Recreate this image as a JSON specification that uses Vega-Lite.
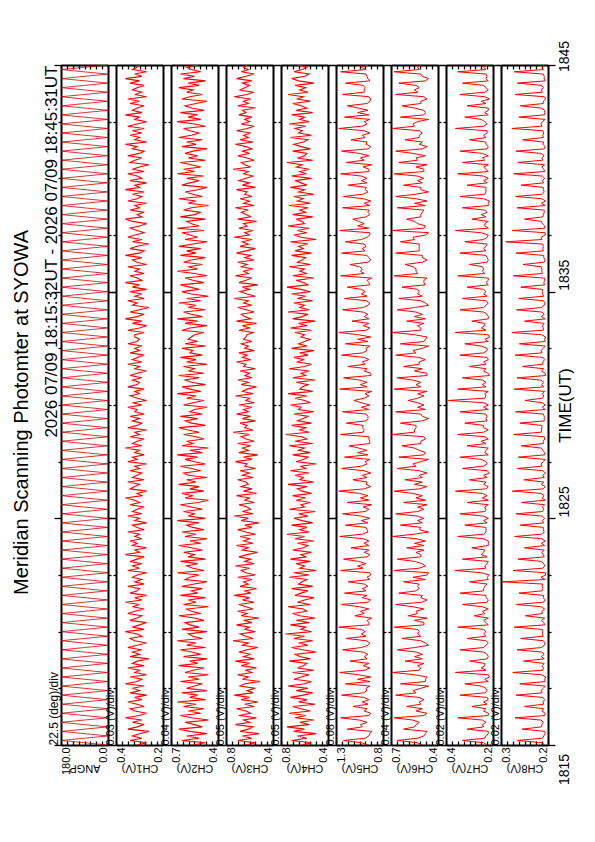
{
"$schema": "https://vega.github.io/schema/vega-lite/v6.json",
"background": "white",
"padding": {"left": 11, "top": 40, "right": 5, "bottom": 5},
"title": {"text": "Meridian Scanning Photomter at SYOWA", "orient": "left", "anchor": "middle", "fontSize": 20, "fontWeight": "normal", "font": "Liberation Sans", "color": "black", "offset": 10},
"config": {
  "font": "Liberation Sans",
  "view": {"stroke": null},
  "axis": {"domainColor": "black", "tickColor": "black", "labelColor": "black", "titleColor": "black", "labelFont": "Liberation Sans", "titleFont": "Liberation Sans", "titleFontWeight": "normal", "grid": false, "domainWidth": 2, "tickWidth": 1.3, "labelOverlap": false, "labelFlush": false}
},
"data": {"values": [
{"t":15.0,"a":1,"c1":0.31,"c2":0.56,"c3":0.63,"c4":0.62,"c5":0.96,"c6":0.50,"c7":0.225,"c8":0.208},
{"t":15.1,"a":90,"c1":0.27,"c2":0.48,"c3":0.55,"c4":0.54,"c5":1.03,"c6":0.53,"c7":0.24,"c8":0.212},
{"t":15.2,"a":179,"c1":0.34,"c2":0.63,"c3":0.70,"c4":0.71,"c5":1.22,"c6":0.66,"c7":0.33,"c8":0.265},
{"t":15.3,"a":89,"c1":0.29,"c2":0.52,"c3":0.58,"c4":0.58,"c5":0.99,"c6":0.53,"c7":0.235,"c8":0.212},
{"t":15.4,"a":0,"c1":0.33,"c2":0.60,"c3":0.66,"c4":0.66,"c5":0.95,"c6":0.49,"c7":0.23,"c8":0.209},
{"t":15.5,"a":91,"c1":0.30,"c2":0.47,"c3":0.52,"c4":0.50,"c5":0.94,"c6":0.48,"c7":0.22,"c8":0.206},
{"t":15.6,"a":178,"c1":0.26,"c2":0.58,"c3":0.68,"c4":0.69,"c5":0.92,"c6":0.47,"c7":0.22,"c8":0.207},
{"t":15.7,"a":88,"c1":0.35,"c2":0.65,"c3":0.61,"c4":0.60,"c5":1.18,"c6":0.62,"c7":0.31,"c8":0.255},
{"t":15.8,"a":2,"c1":0.31,"c2":0.50,"c3":0.57,"c4":0.75,"c5":1.02,"c6":0.55,"c7":0.24,"c8":0.214},
{"t":15.9,"a":90,"c1":0.28,"c2":0.55,"c3":0.72,"c4":0.56,"c5":1.04,"c6":0.54,"c7":0.245,"c8":0.213},
{"t":16.0,"a":180,"c1":0.33,"c2":0.61,"c3":0.60,"c4":0.64,"c5":0.97,"c6":0.52,"c7":0.23,"c8":0.21},
{"t":16.1,"a":92,"c1":0.29,"c2":0.46,"c3":0.65,"c4":0.52,"c5":1.05,"c6":0.56,"c7":0.245,"c8":0.215},
{"t":16.2,"a":1,"c1":0.36,"c2":0.57,"c3":0.54,"c4":0.68,"c5":1.25,"c6":0.68,"c7":0.35,"c8":0.27},
{"t":16.3,"a":89,"c1":0.30,"c2":0.64,"c3":0.69,"c4":0.59,"c5":0.95,"c6":0.49,"c7":0.22,"c8":0.207},
{"t":16.4,"a":179,"c1":0.27,"c2":0.51,"c3":0.59,"c4":0.73,"c5":0.93,"c6":0.47,"c7":0.22,"c8":0.206},
{"t":16.5,"a":91,"c1":0.32,"c2":0.59,"c3":0.63,"c4":0.55,"c5":1.00,"c6":0.54,"c7":0.24,"c8":0.213},
{"t":16.6,"a":0,"c1":0.34,"c2":0.49,"c3":0.71,"c4":0.63,"c5":0.97,"c6":0.50,"c7":0.23,"c8":0.209},
{"t":16.7,"a":90,"c1":0.28,"c2":0.62,"c3":0.56,"c4":0.70,"c5":1.12,"c6":0.60,"c7":0.29,"c8":0.25},
{"t":16.8,"a":178,"c1":0.31,"c2":0.54,"c3":0.64,"c4":0.51,"c5":0.96,"c6":0.51,"c7":0.225,"c8":0.209},
{"t":16.9,"a":88,"c1":0.35,"c2":0.66,"c3":0.53,"c4":0.65,"c5":1.02,"c6":0.52,"c7":0.24,"c8":0.211},
{"t":17.0,"a":2,"c1":0.29,"c2":0.48,"c3":0.67,"c4":0.58,"c5":0.95,"c6":0.49,"c7":0.22,"c8":0.207},
{"t":17.1,"a":92,"c1":0.32,"c2":0.58,"c3":0.60,"c4":0.72,"c5":1.00,"c6":0.52,"c7":0.225,"c8":0.211},
{"t":17.2,"a":180,"c1":0.27,"c2":0.53,"c3":0.73,"c4":0.61,"c5":1.24,"c6":0.67,"c7":0.34,"c8":0.268},
{"t":17.3,"a":89,"c1":0.34,"c2":0.63,"c3":0.57,"c4":0.53,"c5":1.01,"c6":0.54,"c7":0.235,"c8":0.213},
{"t":17.4,"a":1,"c1":0.30,"c2":0.47,"c3":0.62,"c4":0.67,"c5":0.97,"c6":0.56,"c7":0.225,"c8":0.215},
{"t":17.5,"a":90,"c1":0.33,"c2":0.60,"c3":0.55,"c4":0.57,"c5":0.98,"c6":0.51,"c7":0.23,"c8":0.21},
{"t":17.6,"a":179,"c1":0.28,"c2":0.55,"c3":0.68,"c4":0.74,"c5":0.94,"c6":0.46,"c7":0.25,"c8":0.206},
{"t":17.7,"a":91,"c1":0.36,"c2":0.50,"c3":0.64,"c4":0.60,"c5":1.20,"c6":0.64,"c7":0.32,"c8":0.26},
{"t":17.8,"a":0,"c1":0.31,"c2":0.64,"c3":0.51,"c4":0.54,"c5":0.94,"c6":0.48,"c7":0.22,"c8":0.206},
{"t":17.9,"a":88,"c1":0.29,"c2":0.52,"c3":0.66,"c4":0.69,"c5":1.07,"c6":0.48,"c7":0.235,"c8":0.207},
{"t":18.0,"a":178,"c1":0.34,"c2":0.59,"c3":0.61,"c4":0.63,"c5":0.93,"c6":0.47,"c7":0.215,"c8":0.205},
{"t":18.1,"a":90,"c1":0.27,"c2":0.46,"c3":0.70,"c4":0.56,"c5":1.06,"c6":0.55,"c7":0.22,"c8":0.214},
{"t":18.2,"a":2,"c1":0.32,"c2":0.61,"c3":0.58,"c4":0.70,"c5":1.26,"c6":0.69,"c7":0.36,"c8":0.275},
{"t":18.3,"a":92,"c1":0.30,"c2":0.56,"c3":0.63,"c4":0.52,"c5":0.99,"c6":0.52,"c7":0.23,"c8":0.211},
{"t":18.4,"a":180,"c1":0.35,"c2":0.49,"c3":0.54,"c4":0.66,"c5":0.94,"c6":0.51,"c7":0.25,"c8":0.21},
{"t":18.5,"a":89,"c1":0.28,"c2":0.65,"c3":0.67,"c4":0.61,"c5":1.01,"c6":0.53,"c7":0.235,"c8":0.212},
{"t":18.6,"a":1,"c1":0.33,"c2":0.53,"c3":0.60,"c4":0.58,"c5":0.95,"c6":0.49,"c7":0.235,"c8":0.208},
{"t":18.7,"a":91,"c1":0.31,"c2":0.58,"c3":0.72,"c4":0.73,"c5":1.15,"c6":0.61,"c7":0.30,"c8":0.252},
{"t":18.8,"a":179,"c1":0.26,"c2":0.47,"c3":0.56,"c4":0.55,"c5":0.97,"c6":0.50,"c7":0.225,"c8":0.208},
{"t":18.9,"a":90,"c1":0.34,"c2":0.62,"c3":0.65,"c4":0.64,"c5":1.00,"c6":0.55,"c7":0.22,"c8":0.214},
{"t":19.0,"a":0,"c1":0.30,"c2":0.51,"c3":0.59,"c4":0.68,"c5":0.96,"c6":0.50,"c7":0.225,"c8":0.208},
{"t":19.1,"a":88,"c1":0.33,"c2":0.57,"c3":0.69,"c4":0.50,"c5":1.01,"c6":0.54,"c7":0.24,"c8":0.213},
{"t":19.2,"a":178,"c1":0.29,"c2":0.64,"c3":0.62,"c4":0.62,"c5":1.23,"c6":0.66,"c7":0.34,"c8":0.266},
{"t":19.3,"a":90,"c1":0.35,"c2":0.48,"c3":0.53,"c4":0.71,"c5":1.03,"c6":0.55,"c7":0.24,"c8":0.214},
{"t":19.4,"a":2,"c1":0.31,"c2":0.60,"c3":0.66,"c4":0.57,"c5":0.96,"c6":0.46,"c7":0.23,"c8":0.208},
{"t":19.5,"a":92,"c1":0.27,"c2":0.54,"c3":0.61,"c4":0.65,"c5":0.94,"c6":0.48,"c7":0.22,"c8":0.206},
{"t":19.6,"a":180,"c1":0.32,"c2":0.66,"c3":0.74,"c4":0.53,"c5":0.98,"c6":0.51,"c7":0.23,"c8":0.21},
{"t":19.7,"a":89,"c1":0.34,"c2":0.50,"c3":0.57,"c4":0.69,"c5":1.19,"c6":0.63,"c7":0.31,"c8":0.258},
{"t":19.8,"a":1,"c1":0.29,"c2":0.56,"c3":0.63,"c4":0.60,"c5":0.98,"c6":0.51,"c7":0.23,"c8":0.21},
{"t":19.9,"a":91,"c1":0.31,"c2":0.59,"c3":0.68,"c4":0.76,"c5":1.03,"c6":0.53,"c7":0.24,"c8":0.212},
{"t":20.0,"a":179,"c1":0.36,"c2":0.47,"c3":0.55,"c4":0.54,"c5":0.99,"c6":0.52,"c7":0.23,"c8":0.211},
{"t":20.1,"a":90,"c1":0.28,"c2":0.63,"c3":0.64,"c4":0.63,"c5":1.03,"c6":0.53,"c7":0.24,"c8":0.212},
{"t":20.2,"a":0,"c1":0.33,"c2":0.52,"c3":0.60,"c4":0.59,"c5":1.27,"c6":0.68,"c7":0.35,"c8":0.272},
{"t":20.3,"a":88,"c1":0.30,"c2":0.58,"c3":0.71,"c4":0.72,"c5":0.95,"c6":0.49,"c7":0.22,"c8":0.207},
{"t":20.4,"a":178,"c1":0.27,"c2":0.61,"c3":0.58,"c4":0.56,"c5":0.95,"c6":0.49,"c7":0.23,"c8":0.209},
{"t":20.5,"a":90,"c1":0.34,"c2":0.49,"c3":0.65,"c4":0.67,"c5":0.97,"c6":0.55,"c7":0.24,"c8":0.214},
{"t":20.6,"a":2,"c1":0.31,"c2":0.55,"c3":0.52,"c4":0.51,"c5":0.92,"c6":0.47,"c7":0.22,"c8":0.207},
{"t":20.7,"a":92,"c1":0.29,"c2":0.65,"c3":0.67,"c4":0.64,"c5":1.10,"c6":0.59,"c7":0.28,"c8":0.248},
{"t":20.8,"a":180,"c1":0.35,"c2":0.51,"c3":0.62,"c4":0.70,"c5":1.00,"c6":0.53,"c7":0.235,"c8":0.212},
{"t":20.9,"a":89,"c1":0.32,"c2":0.57,"c3":0.70,"c4":0.58,"c5":1.04,"c6":0.54,"c7":0.245,"c8":0.213},
{"t":21.0,"a":1,"c1":0.28,"c2":0.60,"c3":0.57,"c4":0.61,"c5":0.95,"c6":0.49,"c7":0.22,"c8":0.207},
{"t":21.1,"a":91,"c1":0.33,"c2":0.46,"c3":0.63,"c4":0.74,"c5":1.05,"c6":0.56,"c7":0.245,"c8":0.215},
{"t":21.2,"a":179,"c1":0.30,"c2":0.62,"c3":0.69,"c4":0.55,"c5":1.24,"c6":0.67,"c7":0.33,"c8":0.267},
{"t":21.3,"a":90,"c1":0.36,"c2":0.54,"c3":0.56,"c4":0.66,"c5":0.96,"c6":0.50,"c7":0.225,"c8":0.209},
{"t":21.4,"a":0,"c1":0.29,"c2":0.59,"c3":0.66,"c4":0.60,"c5":0.93,"c6":0.47,"c7":0.22,"c8":0.206},
{"t":21.5,"a":88,"c1":0.32,"c2":0.48,"c3":0.60,"c4":0.52,"c5":1.02,"c6":0.51,"c7":0.23,"c8":0.21},
{"t":21.6,"a":178,"c1":0.27,"c2":0.64,"c3":0.73,"c4":0.68,"c5":0.97,"c6":0.50,"c7":0.23,"c8":0.209},
{"t":21.7,"a":90,"c1":0.34,"c2":0.53,"c3":0.59,"c4":0.63,"c5":1.21,"c6":0.65,"c7":0.34,"c8":0.262},
{"t":21.8,"a":2,"c1":0.31,"c2":0.57,"c3":0.64,"c4":0.57,"c5":0.98,"c6":0.54,"c7":0.24,"c8":0.213},
{"t":21.9,"a":92,"c1":0.30,"c2":0.50,"c3":0.54,"c4":0.71,"c5":1.02,"c6":0.52,"c7":0.24,"c8":0.211},
{"t":22.0,"a":180,"c1":0.35,"c2":0.63,"c3":0.68,"c4":0.53,"c5":0.96,"c6":0.53,"c7":0.235,"c8":0.212},
{"t":22.1,"a":89,"c1":0.28,"c2":0.55,"c3":0.61,"c4":0.65,"c5":1.00,"c6":0.52,"c7":0.225,"c8":0.211},
{"t":22.2,"a":1,"c1":0.32,"c2":0.47,"c3":0.65,"c4":0.62,"c5":1.17,"c6":0.62,"c7":0.30,"c8":0.298},
{"t":22.3,"a":91,"c1":0.29,"c2":0.61,"c3":0.58,"c4":0.58,"c5":0.94,"c6":0.48,"c7":0.22,"c8":0.206},
{"t":22.4,"a":179,"c1":0.33,"c2":0.58,"c3":0.70,"c4":0.73,"c5":0.97,"c6":0.56,"c7":0.225,"c8":0.215},
{"t":22.5,"a":90,"c1":0.31,"c2":0.52,"c3":0.55,"c4":0.56,"c5":0.93,"c6":0.47,"c7":0.215,"c8":0.205},
{"t":22.6,"a":0,"c1":0.27,"c2":0.66,"c3":0.63,"c4":0.69,"c5":0.94,"c6":0.46,"c7":0.25,"c8":0.206},
{"t":22.7,"a":88,"c1":0.35,"c2":0.49,"c3":0.67,"c4":0.50,"c5":1.25,"c6":0.68,"c7":0.36,"c8":0.274},
{"t":22.8,"a":178,"c1":0.30,"c2":0.56,"c3":0.60,"c4":0.64,"c5":1.01,"c6":0.52,"c7":0.23,"c8":0.211},
{"t":22.9,"a":90,"c1":0.33,"c2":0.60,"c3":0.72,"c4":0.60,"c5":1.07,"c6":0.48,"c7":0.235,"c8":0.207},
{"t":23.0,"a":2,"c1":0.29,"c2":0.53,"c3":0.56,"c4":0.67,"c5":0.98,"c6":0.50,"c7":0.225,"c8":0.209},
{"t":23.1,"a":92,"c1":0.34,"c2":0.64,"c3":0.64,"c4":0.55,"c5":1.06,"c6":0.55,"c7":0.22,"c8":0.214},
{"t":23.2,"a":180,"c1":0.31,"c2":0.48,"c3":0.59,"c4":0.72,"c5":1.22,"c6":0.66,"c7":0.33,"c8":0.264},
{"t":23.3,"a":89,"c1":0.28,"c2":0.59,"c3":0.69,"c4":0.59,"c5":0.97,"c6":0.51,"c7":0.225,"c8":0.208},
{"t":23.4,"a":1,"c1":0.36,"c2":0.55,"c3":0.62,"c4":0.63,"c5":0.94,"c6":0.51,"c7":0.25,"c8":0.21},
{"t":23.5,"a":91,"c1":0.30,"c2":0.62,"c3":0.53,"c4":0.54,"c5":1.00,"c6":0.54,"c7":0.24,"c8":0.213},
{"t":23.6,"a":179,"c1":0.32,"c2":0.50,"c3":0.66,"c4":0.70,"c5":0.95,"c6":0.49,"c7":0.235,"c8":0.208},
{"t":23.7,"a":90,"c1":0.27,"c2":0.57,"c3":0.61,"c4":0.61,"c5":1.14,"c6":0.60,"c7":0.29,"c8":0.25},
{"t":23.8,"a":0,"c1":0.33,"c2":0.65,"c3":0.71,"c4":0.57,"c5":0.95,"c6":0.49,"c7":0.22,"c8":0.207},
{"t":23.9,"a":88,"c1":0.31,"c2":0.51,"c3":0.57,"c4":0.66,"c5":1.00,"c6":0.55,"c7":0.22,"c8":0.214},
{"t":24.0,"a":178,"c1":0.34,"c2":0.58,"c3":0.65,"c4":0.52,"c5":0.95,"c6":0.48,"c7":0.22,"c8":0.206},
{"t":24.1,"a":90,"c1":0.29,"c2":0.47,"c3":0.60,"c4":0.68,"c5":1.01,"c6":0.54,"c7":0.24,"c8":0.213},
{"t":24.2,"a":2,"c1":0.32,"c2":0.61,"c3":0.68,"c4":0.60,"c5":1.26,"c6":0.69,"c7":0.35,"c8":0.271},
{"t":24.3,"a":92,"c1":0.30,"c2":0.54,"c3":0.55,"c4":0.75,"c5":1.02,"c6":0.55,"c7":0.24,"c8":0.214},
{"t":24.4,"a":180,"c1":0.35,"c2":0.63,"c3":0.63,"c4":0.56,"c5":0.96,"c6":0.46,"c7":0.23,"c8":0.208},
{"t":24.5,"a":89,"c1":0.28,"c2":0.49,"c3":0.70,"c4":0.64,"c5":0.97,"c6":0.52,"c7":0.23,"c8":0.21},
{"t":24.6,"a":1,"c1":0.31,"c2":0.56,"c3":0.58,"c4":0.58,"c5":0.98,"c6":0.51,"c7":0.23,"c8":0.21},
{"t":24.7,"a":91,"c1":0.33,"c2":0.60,"c3":0.64,"c4":0.71,"c5":1.20,"c6":0.64,"c7":0.32,"c8":0.259},
{"t":24.8,"a":179,"c1":0.27,"c2":0.52,"c3":0.52,"c4":0.53,"c5":0.96,"c6":0.50,"c7":0.225,"c8":0.209},
{"t":24.9,"a":90,"c1":0.32,"c2":0.66,"c3":0.67,"c4":0.62,"c5":1.03,"c6":0.53,"c7":0.24,"c8":0.212},
{"t":25.0,"a":0,"c1":0.30,"c2":0.48,"c3":0.61,"c4":0.69,"c5":0.94,"c6":0.49,"c7":0.22,"c8":0.207},
{"t":25.1,"a":88,"c1":0.35,"c2":0.59,"c3":0.73,"c4":0.57,"c5":1.03,"c6":0.53,"c7":0.24,"c8":0.212},
{"t":25.2,"a":178,"c1":0.29,"c2":0.55,"c3":0.57,"c4":0.65,"c5":1.23,"c6":0.67,"c7":0.34,"c8":0.268},
{"t":25.3,"a":90,"c1":0.33,"c2":0.62,"c3":0.66,"c4":0.51,"c5":0.99,"c6":0.53,"c7":0.235,"c8":0.212},
{"t":25.4,"a":2,"c1":0.31,"c2":0.50,"c3":0.59,"c4":0.73,"c5":0.95,"c6":0.49,"c7":0.23,"c8":0.209},
{"t":25.5,"a":92,"c1":0.28,"c2":0.57,"c3":0.62,"c4":0.60,"c5":1.01,"c6":0.53,"c7":0.235,"c8":0.212},
{"t":25.6,"a":180,"c1":0.34,"c2":0.64,"c3":0.69,"c4":0.63,"c5":0.92,"c6":0.47,"c7":0.22,"c8":0.207},
{"t":25.7,"a":89,"c1":0.30,"c2":0.53,"c3":0.56,"c4":0.55,"c5":1.18,"c6":0.62,"c7":0.31,"c8":0.256},
{"t":25.8,"a":1,"c1":0.32,"c2":0.46,"c3":0.64,"c4":0.67,"c5":0.95,"c6":0.48,"c7":0.22,"c8":0.206},
{"t":25.9,"a":91,"c1":0.36,"c2":0.61,"c3":0.60,"c4":0.59,"c5":1.04,"c6":0.54,"c7":0.245,"c8":0.213},
{"t":26.0,"a":179,"c1":0.29,"c2":0.56,"c3":0.71,"c4":0.70,"c5":0.96,"c6":0.50,"c7":0.225,"c8":0.208},
{"t":26.1,"a":90,"c1":0.31,"c2":0.63,"c3":0.54,"c4":0.54,"c5":1.05,"c6":0.56,"c7":0.245,"c8":0.215},
{"t":26.2,"a":0,"c1":0.27,"c2":0.49,"c3":0.65,"c4":0.62,"c5":1.27,"c6":0.68,"c7":0.36,"c8":0.276},
{"t":26.3,"a":88,"c1":0.34,"c2":0.58,"c3":0.58,"c4":0.66,"c5":1.00,"c6":0.52,"c7":0.23,"c8":0.21},
{"t":26.4,"a":178,"c1":0.32,"c2":0.52,"c3":0.67,"c4":0.58,"c5":0.93,"c6":0.47,"c7":0.22,"c8":0.206},
{"t":26.5,"a":90,"c1":0.30,"c2":0.65,"c3":0.61,"c4":0.74,"c5":0.98,"c6":0.55,"c7":0.24,"c8":0.214},
{"t":26.6,"a":2,"c1":0.35,"c2":0.54,"c3":0.63,"c4":0.52,"c5":0.97,"c6":0.50,"c7":0.23,"c8":0.209},
{"t":26.7,"a":92,"c1":0.28,"c2":0.60,"c3":0.70,"c4":0.64,"c5":1.12,"c6":0.61,"c7":0.30,"c8":0.251},
{"t":26.8,"a":180,"c1":0.33,"c2":0.47,"c3":0.57,"c4":0.61,"c5":0.97,"c6":0.50,"c7":0.225,"c8":0.208},
{"t":26.9,"a":89,"c1":0.31,"c2":0.59,"c3":0.66,"c4":0.68,"c5":1.02,"c6":0.52,"c7":0.24,"c8":0.211},
{"t":27.0,"a":1,"c1":0.29,"c2":0.62,"c3":0.60,"c4":0.56,"c5":0.93,"c6":0.47,"c7":0.215,"c8":0.205},
{"t":27.1,"a":91,"c1":0.34,"c2":0.51,"c3":0.68,"c4":0.72,"c5":1.00,"c6":0.52,"c7":0.225,"c8":0.211},
{"t":27.2,"a":179,"c1":0.30,"c2":0.57,"c3":0.55,"c4":0.59,"c5":1.24,"c6":0.66,"c7":0.33,"c8":0.265},
{"t":27.3,"a":90,"c1":0.32,"c2":0.64,"c3":0.64,"c4":0.63,"c5":1.03,"c6":0.54,"c7":0.24,"c8":0.213},
{"t":27.4,"a":0,"c1":0.27,"c2":0.48,"c3":0.62,"c4":0.50,"c5":0.97,"c6":0.56,"c7":0.225,"c8":0.215},
{"t":27.5,"a":88,"c1":0.35,"c2":0.55,"c3":0.72,"c4":0.67,"c5":0.99,"c6":0.51,"c7":0.23,"c8":0.21},
{"t":27.6,"a":178,"c1":0.31,"c2":0.61,"c3":0.58,"c4":0.61,"c5":0.94,"c6":0.46,"c7":0.25,"c8":0.206},
{"t":27.7,"a":90,"c1":0.33,"c2":0.53,"c3":0.65,"c4":0.57,"c5":1.21,"c6":0.65,"c7":0.34,"c8":0.263},
{"t":27.8,"a":2,"c1":0.28,"c2":0.66,"c3":0.53,"c4":0.70,"c5":0.96,"c6":0.49,"c7":0.22,"c8":0.207},
{"t":27.9,"a":92,"c1":0.32,"c2":0.50,"c3":0.69,"c4":0.55,"c5":1.07,"c6":0.48,"c7":0.235,"c8":0.207},
{"t":28.0,"a":180,"c1":0.30,"c2":0.58,"c3":0.61,"c4":0.65,"c5":0.97,"c6":0.52,"c7":0.23,"c8":0.211},
{"t":28.1,"a":89,"c1":0.36,"c2":0.46,"c3":0.66,"c4":0.60,"c5":1.06,"c6":0.55,"c7":0.22,"c8":0.214},
{"t":28.2,"a":1,"c1":0.29,"c2":0.63,"c3":0.59,"c4":0.73,"c5":1.16,"c6":0.63,"c7":0.31,"c8":0.257},
{"t":28.3,"a":91,"c1":0.33,"c2":0.56,"c3":0.70,"c4":0.53,"c5":0.94,"c6":0.51,"c7":0.23,"c8":0.21},
{"t":28.4,"a":179,"c1":0.31,"c2":0.60,"c3":0.56,"c4":0.68,"c5":0.94,"c6":0.51,"c7":0.25,"c8":0.21},
{"t":28.5,"a":90,"c1":0.28,"c2":0.49,"c3":0.63,"c4":0.58,"c5":0.95,"c6":0.48,"c7":0.22,"c8":0.207},
{"t":28.6,"a":0,"c1":0.34,"c2":0.54,"c3":0.67,"c4":0.62,"c5":0.95,"c6":0.49,"c7":0.235,"c8":0.208},
{"t":28.7,"a":88,"c1":0.30,"c2":0.62,"c3":0.60,"c4":0.76,"c5":1.25,"c6":0.69,"c7":0.35,"c8":0.273},
{"t":28.8,"a":178,"c1":0.32,"c2":0.52,"c3":0.74,"c4":0.56,"c5":1.01,"c6":0.55,"c7":0.24,"c8":0.214},
{"t":28.9,"a":90,"c1":0.27,"c2":0.59,"c3":0.57,"c4":0.64,"c5":1.00,"c6":0.55,"c7":0.22,"c8":0.214},
{"t":29.0,"a":2,"c1":0.35,"c2":0.65,"c3":0.64,"c4":0.59,"c5":1.02,"c6":0.54,"c7":0.24,"c8":0.213},
{"t":29.1,"a":92,"c1":0.31,"c2":0.48,"c3":0.62,"c4":0.71,"c5":1.01,"c6":0.54,"c7":0.24,"c8":0.213},
{"t":29.2,"a":180,"c1":0.29,"c2":0.57,"c3":0.68,"c4":0.54,"c5":1.19,"c6":0.64,"c7":0.32,"c8":0.26},
{"t":29.3,"a":89,"c1":0.33,"c2":0.61,"c3":0.55,"c4":0.66,"c5":0.98,"c6":0.50,"c7":0.225,"c8":0.208},
{"t":29.4,"a":1,"c1":0.30,"c2":0.53,"c3":0.66,"c4":0.61,"c5":0.96,"c6":0.46,"c7":0.23,"c8":0.208},
{"t":29.5,"a":91,"c1":0.34,"c2":0.64,"c3":0.59,"c4":0.57,"c5":0.96,"c6":0.50,"c7":0.225,"c8":0.208},
{"t":29.6,"a":179,"c1":0.28,"c2":0.50,"c3":0.71,"c4":0.69,"c5":0.98,"c6":0.51,"c7":0.23,"c8":0.21},
{"t":29.7,"a":90,"c1":0.32,"c2":0.58,"c3":0.61,"c4":0.52,"c5":1.23,"c6":0.67,"c7":0.34,"c8":0.269},
{"t":29.8,"a":0,"c1":0.31,"c2":0.55,"c3":0.65,"c4":0.65,"c5":0.95,"c6":0.48,"c7":0.22,"c8":0.206},
{"t":29.9,"a":88,"c1":0.35,"c2":0.47,"c3":0.58,"c4":0.63,"c5":1.03,"c6":0.53,"c7":0.24,"c8":0.212},
{"t":30.0,"a":178,"c1":0.29,"c2":0.62,"c3":0.69,"c4":0.72,"c5":0.94,"c6":0.49,"c7":0.22,"c8":0.206},
{"t":30.1,"a":90,"c1":0.33,"c2":0.56,"c3":0.56,"c4":0.55,"c5":1.03,"c6":0.53,"c7":0.24,"c8":0.212},
{"t":30.2,"a":2,"c1":0.27,"c2":0.49,"c3":0.63,"c4":0.60,"c5":1.11,"c6":0.59,"c7":0.39,"c8":0.249},
{"t":30.3,"a":92,"c1":0.31,"c2":0.60,"c3":0.60,"c4":0.68,"c5":1.00,"c6":0.53,"c7":0.235,"c8":0.212},
{"t":30.4,"a":180,"c1":0.34,"c2":0.54,"c3":0.72,"c4":0.58,"c5":0.95,"c6":0.49,"c7":0.23,"c8":0.209},
{"t":30.5,"a":89,"c1":0.30,"c2":0.66,"c3":0.57,"c4":0.74,"c5":0.99,"c6":0.53,"c7":0.235,"c8":0.212},
{"t":30.6,"a":1,"c1":0.32,"c2":0.51,"c3":0.66,"c4":0.53,"c5":0.92,"c6":0.47,"c7":0.22,"c8":0.207},
{"t":30.7,"a":91,"c1":0.28,"c2":0.58,"c3":0.62,"c4":0.64,"c5":1.26,"c6":0.68,"c7":0.35,"c8":0.272},
{"t":30.8,"a":179,"c1":0.35,"c2":0.63,"c3":0.54,"c4":0.62,"c5":0.97,"c6":0.51,"c7":0.23,"c8":0.209},
{"t":30.9,"a":90,"c1":0.31,"c2":0.48,"c3":0.67,"c4":0.57,"c5":1.04,"c6":0.54,"c7":0.245,"c8":0.213},
{"t":31.0,"a":0,"c1":0.30,"c2":0.57,"c3":0.61,"c4":0.67,"c5":0.97,"c6":0.51,"c7":0.23,"c8":0.209},
{"t":31.1,"a":88,"c1":0.33,"c2":0.61,"c3":0.70,"c4":0.51,"c5":1.05,"c6":0.56,"c7":0.245,"c8":0.215},
{"t":31.2,"a":178,"c1":0.29,"c2":0.52,"c3":0.58,"c4":0.70,"c5":1.22,"c6":0.66,"c7":0.33,"c8":0.266},
{"t":31.3,"a":90,"c1":0.34,"c2":0.65,"c3":0.64,"c4":0.59,"c5":0.93,"c6":0.47,"c7":0.215,"c8":0.205},
{"t":31.4,"a":2,"c1":0.31,"c2":0.49,"c3":0.60,"c4":0.63,"c5":0.93,"c6":0.47,"c7":0.22,"c8":0.206},
{"t":31.5,"a":92,"c1":0.27,"c2":0.59,"c3":0.68,"c4":0.56,"c5":1.00,"c6":0.55,"c7":0.24,"c8":0.214},
{"t":31.6,"a":180,"c1":0.32,"c2":0.55,"c3":0.55,"c4":0.73,"c5":0.97,"c6":0.50,"c7":0.23,"c8":0.209},
{"t":31.7,"a":89,"c1":0.30,"c2":0.62,"c3":0.65,"c4":0.60,"c5":1.17,"c6":0.62,"c7":0.30,"c8":0.254},
{"t":31.8,"a":1,"c1":0.35,"c2":0.47,"c3":0.63,"c4":0.54,"c5":0.99,"c6":0.52,"c7":0.23,"c8":0.211},
{"t":31.9,"a":91,"c1":0.29,"c2":0.60,"c3":0.71,"c4":0.66,"c5":1.02,"c6":0.52,"c7":0.24,"c8":0.211},
{"t":32.0,"a":179,"c1":0.33,"c2":0.54,"c3":0.59,"c4":0.61,"c5":0.95,"c6":0.48,"c7":0.22,"c8":0.207},
{"t":32.1,"a":90,"c1":0.31,"c2":0.64,"c3":0.66,"c4":0.69,"c5":1.00,"c6":0.52,"c7":0.225,"c8":0.211},
{"t":32.2,"a":0,"c1":0.28,"c2":0.50,"c3":0.62,"c4":0.57,"c5":1.24,"c6":0.67,"c7":0.34,"c8":0.27},
{"t":32.3,"a":88,"c1":0.34,"c2":0.58,"c3":0.69,"c4":0.64,"c5":1.02,"c6":0.54,"c7":0.24,"c8":0.213},
{"t":32.4,"a":178,"c1":0.30,"c2":0.56,"c3":0.56,"c4":0.52,"c5":0.97,"c6":0.56,"c7":0.225,"c8":0.215},
{"t":32.5,"a":90,"c1":0.32,"c2":0.63,"c3":0.64,"c4":0.71,"c5":0.98,"c6":0.50,"c7":0.225,"c8":0.21},
{"t":32.6,"a":2,"c1":0.29,"c2":0.48,"c3":0.61,"c4":0.58,"c5":0.94,"c6":0.46,"c7":0.25,"c8":0.206},
{"t":32.7,"a":92,"c1":0.35,"c2":0.61,"c3":0.67,"c4":0.65,"c5":1.20,"c6":0.64,"c7":0.32,"c8":0.261},
{"t":32.8,"a":180,"c1":0.31,"c2":0.53,"c3":0.58,"c4":0.60,"c5":0.96,"c6":0.49,"c7":0.22,"c8":0.207},
{"t":32.9,"a":89,"c1":0.30,"c2":0.59,"c3":0.65,"c4":0.55,"c5":1.07,"c6":0.48,"c7":0.235,"c8":0.207},
{"t":33.0,"a":1,"c1":0.32,"c2":0.57,"c3":0.63,"c4":0.63,"c5":0.93,"c6":0.47,"c7":0.215,"c8":0.205},
{"t":33.1,"a":91,"c1":0.32,"c2":0.55,"c3":0.62,"c4":0.60,"c5":1.06,"c6":0.55,"c7":0.22,"c8":0.214},
{"t":33.2,"a":179,"c1":0.28,"c2":0.49,"c3":0.57,"c4":0.68,"c5":1.27,"c6":0.69,"c7":0.36,"c8":0.277},
{"t":33.3,"a":90,"c1":0.35,"c2":0.63,"c3":0.69,"c4":0.54,"c5":0.98,"c6":0.51,"c7":0.23,"c8":0.21},
{"t":33.4,"a":0,"c1":0.30,"c2":0.58,"c3":0.60,"c4":0.72,"c5":0.94,"c6":0.51,"c7":0.25,"c8":0.21},
{"t":33.5,"a":88,"c1":0.27,"c2":0.47,"c3":0.66,"c4":0.58,"c5":1.01,"c6":0.53,"c7":0.235,"c8":0.212},
{"t":33.6,"a":178,"c1":0.33,"c2":0.61,"c3":0.54,"c4":0.65,"c5":0.95,"c6":0.49,"c7":0.235,"c8":0.208},
{"t":33.7,"a":90,"c1":0.29,"c2":0.53,"c3":0.71,"c4":0.51,"c5":1.13,"c6":0.60,"c7":0.29,"c8":0.25},
{"t":33.8,"a":2,"c1":0.36,"c2":0.66,"c3":0.59,"c4":0.70,"c5":0.95,"c6":0.48,"c7":0.22,"c8":0.206},
{"t":33.9,"a":92,"c1":0.31,"c2":0.50,"c3":0.64,"c4":0.62,"c5":1.00,"c6":0.55,"c7":0.22,"c8":0.214},
{"t":34.0,"a":180,"c1":0.28,"c2":0.57,"c3":0.67,"c4":0.57,"c5":0.96,"c6":0.50,"c7":0.225,"c8":0.208},
{"t":34.1,"a":89,"c1":0.34,"c2":0.62,"c3":0.56,"c4":0.74,"c5":1.01,"c6":0.54,"c7":0.24,"c8":0.213},
{"t":34.2,"a":1,"c1":0.30,"c2":0.48,"c3":0.63,"c4":0.56,"c5":1.23,"c6":0.66,"c7":0.34,"c8":0.267},
{"t":34.3,"a":91,"c1":0.26,"c2":0.59,"c3":0.70,"c4":0.64,"c5":1.01,"c6":0.55,"c7":0.24,"c8":0.214},
{"t":34.4,"a":179,"c1":0.33,"c2":0.54,"c3":0.58,"c4":0.60,"c5":0.96,"c6":0.46,"c7":0.23,"c8":0.208},
{"t":34.5,"a":90,"c1":0.31,"c2":0.65,"c3":0.65,"c4":0.69,"c5":0.94,"c6":0.48,"c7":0.22,"c8":0.206},
{"t":34.6,"a":0,"c1":0.35,"c2":0.51,"c3":0.61,"c4":0.53,"c5":0.98,"c6":0.51,"c7":0.23,"c8":0.21},
{"t":34.7,"a":88,"c1":0.28,"c2":0.60,"c3":0.73,"c4":0.66,"c5":1.21,"c6":0.65,"c7":0.33,"c8":0.262},
{"t":34.8,"a":178,"c1":0.32,"c2":0.46,"c3":0.55,"c4":0.59,"c5":0.97,"c6":0.50,"c7":0.225,"c8":0.209},
{"t":34.9,"a":90,"c1":0.29,"c2":0.57,"c3":0.62,"c4":0.71,"c5":1.03,"c6":0.53,"c7":0.24,"c8":0.212},
{"t":35.0,"a":2,"c1":0.34,"c2":0.63,"c3":0.68,"c4":0.55,"c5":0.99,"c6":0.52,"c7":0.23,"c8":0.211},
{"t":35.1,"a":92,"c1":0.27,"c2":0.52,"c3":0.60,"c4":0.63,"c5":1.03,"c6":0.53,"c7":0.24,"c8":0.212},
{"t":35.2,"a":180,"c1":0.33,"c2":0.58,"c3":0.66,"c4":0.75,"c5":1.18,"c6":0.63,"c7":0.31,"c8":0.258},
{"t":35.3,"a":89,"c1":0.30,"c2":0.64,"c3":0.53,"c4":0.57,"c5":0.94,"c6":0.48,"c7":0.22,"c8":0.207},
{"t":35.4,"a":1,"c1":0.36,"c2":0.49,"c3":0.69,"c4":0.61,"c5":0.95,"c6":0.49,"c7":0.23,"c8":0.209},
{"t":35.5,"a":91,"c1":0.29,"c2":0.56,"c3":0.63,"c4":0.67,"c5":0.97,"c6":0.49,"c7":0.22,"c8":0.207},
{"t":35.6,"a":179,"c1":0.31,"c2":0.61,"c3":0.58,"c4":0.52,"c5":0.92,"c6":0.47,"c7":0.22,"c8":0.207},
{"t":35.7,"a":90,"c1":0.34,"c2":0.47,"c3":0.72,"c4":0.70,"c5":1.25,"c6":0.68,"c7":0.35,"c8":0.274},
{"t":35.8,"a":0,"c1":0.28,"c2":0.55,"c3":0.61,"c4":0.58,"c5":1.00,"c6":0.53,"c7":0.235,"c8":0.212},
{"t":35.9,"a":88,"c1":0.32,"c2":0.66,"c3":0.65,"c4":0.64,"c5":1.04,"c6":0.54,"c7":0.245,"c8":0.213},
{"t":36.0,"a":178,"c1":0.30,"c2":0.53,"c3":0.57,"c4":0.60,"c5":1.02,"c6":0.54,"c7":0.24,"c8":0.213},
{"t":36.1,"a":90,"c1":0.35,"c2":0.59,"c3":0.67,"c4":0.73,"c5":1.05,"c6":0.56,"c7":0.245,"c8":0.215},
{"t":36.2,"a":2,"c1":0.27,"c2":0.50,"c3":0.62,"c4":0.55,"c5":1.15,"c6":0.61,"c7":0.30,"c8":0.253},
{"t":36.3,"a":92,"c1":0.31,"c2":0.62,"c3":0.70,"c4":0.66,"c5":0.96,"c6":0.50,"c7":0.225,"c8":0.208},
{"t":36.4,"a":180,"c1":0.33,"c2":0.57,"c3":0.56,"c4":0.62,"c5":0.93,"c6":0.47,"c7":0.22,"c8":0.206},
{"t":36.5,"a":89,"c1":0.29,"c2":0.48,"c3":0.64,"c4":0.59,"c5":0.95,"c6":0.50,"c7":0.225,"c8":0.209},
{"t":36.6,"a":1,"c1":0.36,"c2":0.64,"c3":0.59,"c4":0.71,"c5":0.97,"c6":0.50,"c7":0.23,"c8":0.209},
{"t":36.7,"a":91,"c1":0.30,"c2":0.54,"c3":0.71,"c4":0.54,"c5":1.24,"c6":0.67,"c7":0.34,"c8":0.268},
{"t":36.8,"a":179,"c1":0.28,"c2":0.60,"c3":0.63,"c4":0.68,"c5":0.99,"c6":0.52,"c7":0.23,"c8":0.21},
{"t":36.9,"a":90,"c1":0.34,"c2":0.51,"c3":0.55,"c4":0.61,"c5":1.02,"c6":0.52,"c7":0.24,"c8":0.211},
{"t":37.0,"a":0,"c1":0.31,"c2":0.65,"c3":0.68,"c4":0.65,"c5":0.98,"c6":0.52,"c7":0.23,"c8":0.21},
{"t":37.1,"a":88,"c1":0.26,"c2":0.56,"c3":0.61,"c4":0.57,"c5":1.00,"c6":0.52,"c7":0.225,"c8":0.211},
{"t":37.2,"a":178,"c1":0.33,"c2":0.47,"c3":0.66,"c4":0.72,"c5":1.20,"c6":0.64,"c7":0.32,"c8":0.29},
{"t":37.3,"a":90,"c1":0.29,"c2":0.61,"c3":0.58,"c4":0.50,"c5":1.03,"c6":0.55,"c7":0.24,"c8":0.213},
{"t":37.4,"a":2,"c1":0.35,"c2":0.53,"c3":0.73,"c4":0.63,"c5":0.97,"c6":0.56,"c7":0.225,"c8":0.215},
{"t":37.5,"a":92,"c1":0.32,"c2":0.58,"c3":0.60,"c4":0.69,"c5":0.94,"c6":0.48,"c7":0.22,"c8":0.206},
{"t":37.6,"a":180,"c1":0.28,"c2":0.63,"c3":0.64,"c4":0.58,"c5":0.94,"c6":0.46,"c7":0.25,"c8":0.206},
{"t":37.7,"a":89,"c1":0.31,"c2":0.49,"c3":0.57,"c4":0.66,"c5":1.26,"c6":0.69,"c7":0.36,"c8":0.276},
{"t":37.8,"a":1,"c1":0.34,"c2":0.66,"c3":0.69,"c4":0.56,"c5":0.95,"c6":0.49,"c7":0.22,"c8":0.207},
{"t":37.9,"a":91,"c1":0.30,"c2":0.52,"c3":0.62,"c4":0.74,"c5":1.07,"c6":0.48,"c7":0.235,"c8":0.207},
{"t":38.0,"a":179,"c1":0.27,"c2":0.57,"c3":0.65,"c4":0.60,"c5":1.00,"c6":0.53,"c7":0.235,"c8":0.212},
{"t":38.1,"a":90,"c1":0.33,"c2":0.60,"c3":0.54,"c4":0.62,"c5":1.06,"c6":0.55,"c7":0.22,"c8":0.214},
{"t":38.2,"a":0,"c1":0.36,"c2":0.48,"c3":0.70,"c4":0.67,"c5":1.12,"c6":0.60,"c7":0.29,"c8":0.25},
{"t":38.3,"a":88,"c1":0.29,"c2":0.64,"c3":0.59,"c4":0.53,"c5":0.98,"c6":0.51,"c7":0.23,"c8":0.211},
{"t":38.4,"a":178,"c1":0.31,"c2":0.55,"c3":0.63,"c4":0.70,"c5":0.94,"c6":0.51,"c7":0.25,"c8":0.21},
{"t":38.5,"a":90,"c1":0.28,"c2":0.51,"c3":0.67,"c4":0.59,"c5":0.96,"c6":0.50,"c7":0.225,"c8":0.208},
{"t":38.6,"a":2,"c1":0.34,"c2":0.62,"c3":0.61,"c4":0.64,"c5":0.95,"c6":0.49,"c7":0.235,"c8":0.208},
{"t":38.7,"a":92,"c1":0.30,"c2":0.57,"c3":0.72,"c4":0.57,"c5":1.23,"c6":0.66,"c7":0.33,"c8":0.266},
{"t":38.8,"a":180,"c1":0.32,"c2":0.46,"c3":0.56,"c4":0.73,"c5":0.94,"c6":0.48,"c7":0.22,"c8":0.206},
{"t":38.9,"a":89,"c1":0.27,"c2":0.59,"c3":0.65,"c4":0.55,"c5":1.00,"c6":0.55,"c7":0.22,"c8":0.214},
{"t":39.0,"a":1,"c1":0.35,"c2":0.54,"c3":0.60,"c4":0.66,"c5":0.93,"c6":0.47,"c7":0.215,"c8":0.205},
{"t":39.1,"a":91,"c1":0.31,"c2":0.65,"c3":0.68,"c4":0.61,"c5":1.01,"c6":0.54,"c7":0.24,"c8":0.213},
{"t":39.2,"a":179,"c1":0.29,"c2":0.50,"c3":0.58,"c4":0.69,"c5":1.22,"c6":0.67,"c7":0.34,"c8":0.269},
{"t":39.3,"a":90,"c1":0.33,"c2":0.56,"c3":0.64,"c4":0.52,"c5":1.01,"c6":0.54,"c7":0.235,"c8":0.212},
{"t":39.4,"a":0,"c1":0.28,"c2":0.61,"c3":0.62,"c4":0.65,"c5":0.96,"c6":0.46,"c7":0.23,"c8":0.208},
{"t":39.5,"a":88,"c1":0.36,"c2":0.53,"c3":0.71,"c4":0.60,"c5":0.99,"c6":0.51,"c7":0.23,"c8":0.21},
{"t":39.6,"a":178,"c1":0.30,"c2":0.47,"c3":0.55,"c4":0.72,"c5":0.98,"c6":0.51,"c7":0.23,"c8":0.21},
{"t":39.7,"a":90,"c1":0.32,"c2":0.63,"c3":0.66,"c4":0.58,"c5":1.17,"c6":0.62,"c7":0.31,"c8":0.257},
{"t":39.8,"a":2,"c1":0.27,"c2":0.58,"c3":0.60,"c4":0.63,"c5":0.97,"c6":0.50,"c7":0.225,"c8":0.209},
{"t":39.9,"a":92,"c1":0.34,"c2":0.52,"c3":0.69,"c4":0.68,"c5":1.03,"c6":0.53,"c7":0.24,"c8":0.212},
{"t":40.0,"a":180,"c1":0.29,"c2":0.60,"c3":0.63,"c4":0.54,"c5":0.97,"c6":0.49,"c7":0.22,"c8":0.207},
{"t":40.1,"a":89,"c1":0.31,"c2":0.49,"c3":0.57,"c4":0.71,"c5":1.03,"c6":0.53,"c7":0.24,"c8":0.212},
{"t":40.2,"a":1,"c1":0.35,"c2":0.66,"c3":0.65,"c4":0.59,"c5":1.25,"c6":0.68,"c7":0.35,"c8":0.273},
{"t":40.3,"a":91,"c1":0.28,"c2":0.55,"c3":0.61,"c4":0.64,"c5":0.95,"c6":0.49,"c7":0.22,"c8":0.207},
{"t":40.4,"a":179,"c1":0.33,"c2":0.62,"c3":0.74,"c4":0.56,"c5":0.95,"c6":0.49,"c7":0.23,"c8":0.209},
{"t":40.5,"a":90,"c1":0.30,"c2":0.51,"c3":0.59,"c4":0.67,"c5":1.01,"c6":0.54,"c7":0.24,"c8":0.213},
{"t":40.6,"a":0,"c1":0.26,"c2":0.57,"c3":0.64,"c4":0.62,"c5":0.92,"c6":0.47,"c7":0.22,"c8":0.207},
{"t":40.7,"a":88,"c1":0.34,"c2":0.64,"c3":0.67,"c4":0.75,"c5":1.19,"c6":0.65,"c7":0.33,"c8":0.264},
{"t":40.8,"a":178,"c1":0.32,"c2":0.48,"c3":0.56,"c4":0.53,"c5":1.00,"c6":0.53,"c7":0.235,"c8":0.211},
{"t":40.9,"a":90,"c1":0.29,"c2":0.59,"c3":0.62,"c4":0.66,"c5":1.04,"c6":0.54,"c7":0.245,"c8":0.213},
{"t":41.0,"a":2,"c1":0.35,"c2":0.53,"c3":0.70,"c4":0.60,"c5":0.95,"c6":0.48,"c7":0.22,"c8":0.208},
{"t":41.1,"a":92,"c1":0.30,"c2":0.61,"c3":0.60,"c4":0.58,"c5":1.05,"c6":0.56,"c7":0.245,"c8":0.215},
{"t":41.2,"a":180,"c1":0.28,"c2":0.56,"c3":0.66,"c4":0.70,"c5":1.24,"c6":0.67,"c7":0.34,"c8":0.268},
{"t":41.3,"a":89,"c1":0.33,"c2":0.47,"c3":0.58,"c4":0.55,"c5":0.96,"c6":0.50,"c7":0.225,"c8":0.208},
{"t":41.4,"a":1,"c1":0.31,"c2":0.63,"c3":0.63,"c4":0.63,"c5":0.93,"c6":0.47,"c7":0.22,"c8":0.206},
{"t":41.5,"a":91,"c1":0.36,"c2":0.54,"c3":0.72,"c4":0.69,"c5":0.98,"c6":0.52,"c7":0.23,"c8":0.211},
{"t":41.6,"a":179,"c1":0.27,"c2":0.60,"c3":0.57,"c4":0.61,"c5":0.97,"c6":0.50,"c7":0.23,"c8":0.209},
{"t":41.7,"a":90,"c1":0.32,"c2":0.50,"c3":0.68,"c4":0.57,"c5":1.14,"c6":0.61,"c7":0.30,"c8":0.254},
{"t":41.8,"a":0,"c1":0.30,"c2":0.65,"c3":0.61,"c4":0.72,"c5":0.99,"c6":0.52,"c7":0.23,"c8":0.21},
{"t":41.9,"a":88,"c1":0.34,"c2":0.57,"c3":0.65,"c4":0.54,"c5":1.02,"c6":0.52,"c7":0.24,"c8":0.211},
{"t":42.0,"a":178,"c1":0.29,"c2":0.52,"c3":0.59,"c4":0.65,"c5":0.94,"c6":0.50,"c7":0.225,"c8":0.209},
{"t":42.1,"a":90,"c1":0.33,"c2":0.58,"c3":0.71,"c4":0.62,"c5":1.00,"c6":0.52,"c7":0.225,"c8":0.211},
{"t":42.2,"a":2,"c1":0.28,"c2":0.62,"c3":0.62,"c4":0.68,"c5":1.27,"c6":0.69,"c7":0.36,"c8":0.277},
{"t":42.3,"a":92,"c1":0.35,"c2":0.48,"c3":0.56,"c4":0.59,"c5":1.02,"c6":0.55,"c7":0.24,"c8":0.213},
{"t":42.4,"a":180,"c1":0.31,"c2":0.55,"c3":0.67,"c4":0.73,"c5":0.97,"c6":0.56,"c7":0.225,"c8":0.215},
{"t":42.5,"a":89,"c1":0.27,"c2":0.66,"c3":0.60,"c4":0.56,"c5":1.00,"c6":0.53,"c7":0.235,"c8":0.212},
{"t":42.6,"a":1,"c1":0.32,"c2":0.51,"c3":0.64,"c4":0.64,"c5":0.94,"c6":0.46,"c7":0.25,"c8":0.206},
{"t":42.7,"a":91,"c1":0.30,"c2":0.59,"c3":0.58,"c4":0.60,"c5":1.21,"c6":0.64,"c7":0.32,"c8":0.262},
{"t":42.8,"a":179,"c1":0.36,"c2":0.53,"c3":0.69,"c4":0.71,"c5":0.95,"c6":0.49,"c7":0.22,"c8":0.207},
{"t":42.9,"a":90,"c1":0.29,"c2":0.64,"c3":0.63,"c4":0.53,"c5":1.07,"c6":0.48,"c7":0.235,"c8":0.207},
{"t":43.0,"a":0,"c1":0.33,"c2":0.49,"c3":0.66,"c4":0.67,"c5":0.96,"c6":0.49,"c7":0.22,"c8":0.207},
{"t":43.1,"a":88,"c1":0.31,"c2":0.57,"c3":0.55,"c4":0.58,"c5":1.06,"c6":0.55,"c7":0.22,"c8":0.214},
{"t":43.2,"a":178,"c1":0.28,"c2":0.61,"c3":0.70,"c4":0.63,"c5":1.18,"c6":0.63,"c7":0.31,"c8":0.259},
{"t":43.3,"a":90,"c1":0.34,"c2":0.54,"c3":0.61,"c4":0.70,"c5":0.97,"c6":0.51,"c7":0.23,"c8":0.21},
{"t":43.4,"a":2,"c1":0.30,"c2":0.47,"c3":0.65,"c4":0.55,"c5":0.94,"c6":0.51,"c7":0.25,"c8":0.21},
{"t":43.5,"a":92,"c1":0.35,"c2":0.63,"c3":0.59,"c4":0.66,"c5":0.93,"c6":0.47,"c7":0.215,"c8":0.205},
{"t":43.6,"a":180,"c1":0.27,"c2":0.58,"c3":0.73,"c4":0.61,"c5":0.95,"c6":0.49,"c7":0.235,"c8":0.208},
{"t":43.7,"a":89,"c1":0.32,"c2":0.50,"c3":0.62,"c4":0.74,"c5":1.23,"c6":0.67,"c7":0.34,"c8":0.27},
{"t":43.8,"a":1,"c1":0.29,"c2":0.60,"c3":0.57,"c4":0.57,"c5":1.00,"c6":0.53,"c7":0.235,"c8":0.212},
{"t":43.9,"a":91,"c1":0.33,"c2":0.56,"c3":0.68,"c4":0.64,"c5":1.00,"c6":0.55,"c7":0.22,"c8":0.214},
{"t":44.0,"a":179,"c1":0.31,"c2":0.65,"c3":0.64,"c4":0.59,"c5":0.99,"c6":0.52,"c7":0.23,"c8":0.21},
{"t":44.1,"a":90,"c1":0.28,"c2":0.52,"c3":0.60,"c4":0.68,"c5":1.01,"c6":0.54,"c7":0.24,"c8":0.213},
{"t":44.2,"a":0,"c1":0.34,"c2":0.59,"c3":0.66,"c4":0.52,"c5":1.20,"c6":0.65,"c7":0.33,"c8":0.265},
{"t":44.3,"a":88,"c1":0.30,"c2":0.48,"c3":0.58,"c4":0.65,"c5":0.94,"c6":0.48,"c7":0.22,"c8":0.206},
{"t":44.4,"a":178,"c1":0.36,"c2":0.62,"c3":0.71,"c4":0.71,"c5":0.96,"c6":0.46,"c7":0.23,"c8":0.208},
{"t":44.5,"a":90,"c1":0.29,"c2":0.55,"c3":0.63,"c4":0.60,"c5":0.97,"c6":0.50,"c7":0.225,"c8":0.208},
{"t":44.6,"a":2,"c1":0.32,"c2":0.64,"c3":0.56,"c4":0.56,"c5":0.98,"c6":0.51,"c7":0.23,"c8":0.21},
{"t":44.7,"a":92,"c1":0.27,"c2":0.51,"c3":0.67,"c4":0.69,"c5":1.25,"c6":0.68,"c7":0.35,"c8":0.272},
{"t":44.8,"a":180,"c1":0.33,"c2":0.57,"c3":0.61,"c4":0.62,"c5":0.98,"c6":0.52,"c7":0.23,"c8":0.21},
{"t":44.9,"a":89,"c1":0.31,"c2":0.60,"c3":0.65,"c4":0.58,"c5":1.03,"c6":0.53,"c7":0.24,"c8":0.212},
{"t":45.0,"a":1,"c1":0.30,"c2":0.53,"c3":0.62,"c4":0.66,"c5":0.96,"c6":0.51,"c7":0.225,"c8":0.209}
]},
"spacing": 8,
"bounds": "flush",
"hconcat": [
{
 "width": 47, "height": 680,
 "layer": [
  {"mark": {"type": "line", "color": "#cc0000", "strokeWidth": 0.8, "clip": true},
   "encoding": {
    "x": {"field": "a", "type": "quantitative", "scale": {"domain": [0, 180], "reverse": true, "nice": false, "zero": false},
          "axis": {"orient": "bottom", "values": [0, 22.5, 45, 67.5, 90, 112.5, 135, 157.5, 180], "tickSize": -4, "labelExpr": "datum.value == 180 ? '180.0' : datum.value == 0 ? '0.0' : ''", "labelAngle": -90, "labelAlign": "right", "labelBaseline": "middle", "labelFontSize": 11, "labelPadding": 6, "labelOffset": {"condition": {"test": "datum.value == 180", "value": 5}, "value": -5}, "title": "ANGP", "titleAngle": 180, "titleAlign": "center", "titleBaseline": "middle", "titleFontSize": 11, "titleY": 22}},
    "y": {"field": "t", "type": "quantitative", "scale": {"domain": [15, 45], "nice": false, "zero": false},
          "axis": {"orient": "left", "values": [15,17.5,20,22.5,25,27.5,30,32.5,35,37.5,40,42.5,45], "labels": false, "tickSize": {"condition": {"test": "datum.value % 10 == 5", "value": 7}, "value": 3}, "title": "22.5 (deg)/div", "titleAnchor": "start", "titleAngle": 270, "titleFontSize": 12, "titleX": -1, "titleBaseline": "bottom"}},
    "order": {"field": "t"}
   }},
  {"mark": {"type": "line", "strokeOpacity": 0},
   "encoding": {
    "x": {"field": "a", "type": "quantitative", "scale": {"domain": [0, 180], "reverse": true, "nice": false, "zero": false},
          "axis": {"orient": "top", "values": [0, 22.5, 45, 67.5, 90, 112.5, 135, 157.5, 180], "tickSize": -4, "labels": false, "title": null}},
    "y": {"field": "t", "type": "quantitative", "scale": {"domain": [15, 45], "nice": false, "zero": false},
          "axis": {"orient": "right", "values": [15,17.5,20,22.5,25,27.5,30,32.5,35,37.5,40,42.5,45], "labels": false, "tickSize": {"condition": {"test": "datum.value % 10 == 5", "value": 7}, "value": 3}, "title": null}},
    "order": {"field": "t"}
   }},
  {"mark": {"type": "line", "strokeOpacity": 0},
   "encoding": {
    "x": {"field": "a", "type": "quantitative", "scale": {"domain": [0, 180], "reverse": true, "nice": false, "zero": false}, "axis": null},
    "y": {"field": "t", "type": "quantitative", "scale": {"domain": [15, 45], "nice": false, "zero": false},
          "axis": {"orient": "left", "domain": false, "ticks": false, "labels": false, "title": "2026 07/09 18:15:32UT - 2026 07/09 18:45:31UT", "titleAnchor": "end", "titleAngle": 270, "titleFontSize": 17, "titleX": -1, "titleBaseline": "bottom"}},
    "order": {"field": "t"}
   }}
 ],
 "resolve": {"axis": {"x": "independent", "y": "independent"}}
},
{
 "width": 47, "height": 680,
 "layer": [
  {"mark": {"type": "line", "color": "#ff0000", "strokeWidth": 1.1, "clip": true},
   "encoding": {
    "x": {"field": "c1", "type": "quantitative", "scale": {"domain": [0.2, 0.4], "reverse": true, "nice": false, "zero": false},
          "axis": {"orient": "bottom", "values": [0.2, 0.225, 0.25, 0.275, 0.3, 0.325, 0.35, 0.375, 0.4], "tickSize": -4, "labelExpr": "datum.value == 0.4 ? '0.4' : datum.value == 0.2 ? '0.2' : ''", "labelAngle": -90, "labelAlign": "right", "labelBaseline": "middle", "labelFontSize": 11, "labelPadding": 6, "labelOffset": {"condition": {"test": "datum.value == 0.4", "value": 5}, "value": -5}, "title": "CH1(V)", "titleAngle": 180, "titleAlign": "center", "titleBaseline": "middle", "titleFontSize": 11, "titleY": 22}},
    "y": {"field": "t", "type": "quantitative", "scale": {"domain": [15, 45], "nice": false, "zero": false},
          "axis": {"orient": "left", "values": [15,17.5,20,22.5,25,27.5,30,32.5,35,37.5,40,42.5,45], "labels": false, "tickSize": {"condition": {"test": "datum.value % 10 == 5", "value": 7}, "value": 3}, "title": "0.03 (V)/div", "titleAnchor": "start", "titleAngle": 270, "titleFontSize": 11, "titleX": -1, "titleBaseline": "bottom"}},
    "order": {"field": "t"}
   }},
  {"mark": {"type": "line", "strokeOpacity": 0},
   "encoding": {
    "x": {"field": "c1", "type": "quantitative", "scale": {"domain": [0.2, 0.4], "reverse": true, "nice": false, "zero": false},
          "axis": {"orient": "top", "values": [0.2, 0.225, 0.25, 0.275, 0.3, 0.325, 0.35, 0.375, 0.4], "tickSize": -4, "labels": false, "title": null}},
    "y": {"field": "t", "type": "quantitative", "scale": {"domain": [15, 45], "nice": false, "zero": false},
          "axis": {"orient": "right", "values": [15,17.5,20,22.5,25,27.5,30,32.5,35,37.5,40,42.5,45], "labels": false, "tickSize": {"condition": {"test": "datum.value % 10 == 5", "value": 7}, "value": 3}, "title": null}},
    "order": {"field": "t"}
   }}
 ],
 "resolve": {"axis": {"x": "independent", "y": "independent"}}
},
{
 "width": 47, "height": 680,
 "layer": [
  {"mark": {"type": "line", "color": "#ff0000", "strokeWidth": 1.1, "clip": true},
   "encoding": {
    "x": {"field": "c2", "type": "quantitative", "scale": {"domain": [0.4, 0.7], "reverse": true, "nice": false, "zero": false},
          "axis": {"orient": "bottom", "values": [0.4, 0.4375, 0.475, 0.5125, 0.55, 0.5875, 0.625, 0.6625, 0.7], "tickSize": -4, "labelExpr": "datum.value == 0.7 ? '0.7' : datum.value == 0.4 ? '0.4' : ''", "labelAngle": -90, "labelAlign": "right", "labelBaseline": "middle", "labelFontSize": 11, "labelPadding": 6, "labelOffset": {"condition": {"test": "datum.value == 0.7", "value": 5}, "value": -5}, "title": "CH2(V)", "titleAngle": 180, "titleAlign": "center", "titleBaseline": "middle", "titleFontSize": 11, "titleY": 22}},
    "y": {"field": "t", "type": "quantitative", "scale": {"domain": [15, 45], "nice": false, "zero": false},
          "axis": {"orient": "left", "values": [15,17.5,20,22.5,25,27.5,30,32.5,35,37.5,40,42.5,45], "labels": false, "tickSize": {"condition": {"test": "datum.value % 10 == 5", "value": 7}, "value": 3}, "title": "0.04 (V)/div", "titleAnchor": "start", "titleAngle": 270, "titleFontSize": 11, "titleX": -1, "titleBaseline": "bottom"}},
    "order": {"field": "t"}
   }},
  {"mark": {"type": "line", "strokeOpacity": 0},
   "encoding": {
    "x": {"field": "c2", "type": "quantitative", "scale": {"domain": [0.4, 0.7], "reverse": true, "nice": false, "zero": false},
          "axis": {"orient": "top", "values": [0.4, 0.4375, 0.475, 0.5125, 0.55, 0.5875, 0.625, 0.6625, 0.7], "tickSize": -4, "labels": false, "title": null}},
    "y": {"field": "t", "type": "quantitative", "scale": {"domain": [15, 45], "nice": false, "zero": false},
          "axis": {"orient": "right", "values": [15,17.5,20,22.5,25,27.5,30,32.5,35,37.5,40,42.5,45], "labels": false, "tickSize": {"condition": {"test": "datum.value % 10 == 5", "value": 7}, "value": 3}, "title": null}},
    "order": {"field": "t"}
   }}
 ],
 "resolve": {"axis": {"x": "independent", "y": "independent"}}
},
{
 "width": 47, "height": 680,
 "layer": [
  {"mark": {"type": "line", "color": "#ff0000", "strokeWidth": 1.1, "clip": true},
   "encoding": {
    "x": {"field": "c3", "type": "quantitative", "scale": {"domain": [0.4, 0.8], "reverse": true, "nice": false, "zero": false},
          "axis": {"orient": "bottom", "values": [0.4, 0.45, 0.5, 0.55, 0.6, 0.65, 0.7, 0.75, 0.8], "tickSize": -4, "labelExpr": "datum.value == 0.8 ? '0.8' : datum.value == 0.4 ? '0.4' : ''", "labelAngle": -90, "labelAlign": "right", "labelBaseline": "middle", "labelFontSize": 11, "labelPadding": 6, "labelOffset": {"condition": {"test": "datum.value == 0.8", "value": 5}, "value": -5}, "title": "CH3(V)", "titleAngle": 180, "titleAlign": "center", "titleBaseline": "middle", "titleFontSize": 11, "titleY": 22}},
    "y": {"field": "t", "type": "quantitative", "scale": {"domain": [15, 45], "nice": false, "zero": false},
          "axis": {"orient": "left", "values": [15,17.5,20,22.5,25,27.5,30,32.5,35,37.5,40,42.5,45], "labels": false, "tickSize": {"condition": {"test": "datum.value % 10 == 5", "value": 7}, "value": 3}, "title": "0.05 (V)/div", "titleAnchor": "start", "titleAngle": 270, "titleFontSize": 11, "titleX": -1, "titleBaseline": "bottom"}},
    "order": {"field": "t"}
   }},
  {"mark": {"type": "line", "strokeOpacity": 0},
   "encoding": {
    "x": {"field": "c3", "type": "quantitative", "scale": {"domain": [0.4, 0.8], "reverse": true, "nice": false, "zero": false},
          "axis": {"orient": "top", "values": [0.4, 0.45, 0.5, 0.55, 0.6, 0.65, 0.7, 0.75, 0.8], "tickSize": -4, "labels": false, "title": null}},
    "y": {"field": "t", "type": "quantitative", "scale": {"domain": [15, 45], "nice": false, "zero": false},
          "axis": {"orient": "right", "values": [15,17.5,20,22.5,25,27.5,30,32.5,35,37.5,40,42.5,45], "labels": false, "tickSize": {"condition": {"test": "datum.value % 10 == 5", "value": 7}, "value": 3}, "title": null}},
    "order": {"field": "t"}
   }}
 ],
 "resolve": {"axis": {"x": "independent", "y": "independent"}}
},
{
 "width": 47, "height": 680,
 "layer": [
  {"mark": {"type": "line", "color": "#ff0000", "strokeWidth": 1.1, "clip": true},
   "encoding": {
    "x": {"field": "c4", "type": "quantitative", "scale": {"domain": [0.4, 0.8], "reverse": true, "nice": false, "zero": false},
          "axis": {"orient": "bottom", "values": [0.4, 0.45, 0.5, 0.55, 0.6, 0.65, 0.7, 0.75, 0.8], "tickSize": -4, "labelExpr": "datum.value == 0.8 ? '0.8' : datum.value == 0.4 ? '0.4' : ''", "labelAngle": -90, "labelAlign": "right", "labelBaseline": "middle", "labelFontSize": 11, "labelPadding": 6, "labelOffset": {"condition": {"test": "datum.value == 0.8", "value": 5}, "value": -5}, "title": "CH4(V)", "titleAngle": 180, "titleAlign": "center", "titleBaseline": "middle", "titleFontSize": 11, "titleY": 22}},
    "y": {"field": "t", "type": "quantitative", "scale": {"domain": [15, 45], "nice": false, "zero": false},
          "axis": {"orient": "left", "values": [15,17.5,20,22.5,25,27.5,30,32.5,35,37.5,40,42.5,45], "labels": false, "tickSize": {"condition": {"test": "datum.value % 10 == 5", "value": 7}, "value": 3}, "title": "0.05 (V)/div", "titleAnchor": "start", "titleAngle": 270, "titleFontSize": 11, "titleX": -1, "titleBaseline": "bottom"}},
    "order": {"field": "t"}
   }},
  {"mark": {"type": "line", "strokeOpacity": 0},
   "encoding": {
    "x": {"field": "c4", "type": "quantitative", "scale": {"domain": [0.4, 0.8], "reverse": true, "nice": false, "zero": false},
          "axis": {"orient": "top", "values": [0.4, 0.45, 0.5, 0.55, 0.6, 0.65, 0.7, 0.75, 0.8], "tickSize": -4, "labels": false, "title": null}},
    "y": {"field": "t", "type": "quantitative", "scale": {"domain": [15, 45], "nice": false, "zero": false},
          "axis": {"orient": "right", "values": [15,17.5,20,22.5,25,27.5,30,32.5,35,37.5,40,42.5,45], "labels": false, "tickSize": {"condition": {"test": "datum.value % 10 == 5", "value": 7}, "value": 3}, "title": null}},
    "order": {"field": "t"}
   }}
 ],
 "resolve": {"axis": {"x": "independent", "y": "independent"}}
},
{
 "width": 47, "height": 680,
 "layer": [
  {"mark": {"type": "line", "color": "#ff0000", "strokeWidth": 1, "clip": true},
   "encoding": {
    "x": {"field": "c5", "type": "quantitative", "scale": {"domain": [0.8, 1.3], "reverse": true, "nice": false, "zero": false},
          "axis": {"orient": "bottom", "values": [0.8, 0.8625, 0.925, 0.9875, 1.05, 1.1125, 1.175, 1.2375, 1.3], "tickSize": -4, "labelExpr": "datum.value == 1.3 ? '1.3' : datum.value == 0.8 ? '0.8' : ''", "labelAngle": -90, "labelAlign": "right", "labelBaseline": "middle", "labelFontSize": 11, "labelPadding": 6, "labelOffset": {"condition": {"test": "datum.value == 1.3", "value": 5}, "value": -5}, "title": "CH5(V)", "titleAngle": 180, "titleAlign": "center", "titleBaseline": "middle", "titleFontSize": 11, "titleY": 22}},
    "y": {"field": "t", "type": "quantitative", "scale": {"domain": [15, 45], "nice": false, "zero": false},
          "axis": {"orient": "left", "values": [15,17.5,20,22.5,25,27.5,30,32.5,35,37.5,40,42.5,45], "labels": false, "tickSize": {"condition": {"test": "datum.value % 10 == 5", "value": 7}, "value": 3}, "title": "0.08 (V)/div", "titleAnchor": "start", "titleAngle": 270, "titleFontSize": 11, "titleX": -1, "titleBaseline": "bottom"}},
    "order": {"field": "t"}
   }},
  {"mark": {"type": "line", "strokeOpacity": 0},
   "encoding": {
    "x": {"field": "c5", "type": "quantitative", "scale": {"domain": [0.8, 1.3], "reverse": true, "nice": false, "zero": false},
          "axis": {"orient": "top", "values": [0.8, 0.8625, 0.925, 0.9875, 1.05, 1.1125, 1.175, 1.2375, 1.3], "tickSize": -4, "labels": false, "title": null}},
    "y": {"field": "t", "type": "quantitative", "scale": {"domain": [15, 45], "nice": false, "zero": false},
          "axis": {"orient": "right", "values": [15,17.5,20,22.5,25,27.5,30,32.5,35,37.5,40,42.5,45], "labels": false, "tickSize": {"condition": {"test": "datum.value % 10 == 5", "value": 7}, "value": 3}, "title": null}},
    "order": {"field": "t"}
   }}
 ],
 "resolve": {"axis": {"x": "independent", "y": "independent"}}
},
{
 "width": 47, "height": 680,
 "layer": [
  {"mark": {"type": "line", "color": "#ff0000", "strokeWidth": 1, "clip": true},
   "encoding": {
    "x": {"field": "c6", "type": "quantitative", "scale": {"domain": [0.4, 0.7], "reverse": true, "nice": false, "zero": false},
          "axis": {"orient": "bottom", "values": [0.4, 0.4375, 0.475, 0.5125, 0.55, 0.5875, 0.625, 0.6625, 0.7], "tickSize": -4, "labelExpr": "datum.value == 0.7 ? '0.7' : datum.value == 0.4 ? '0.4' : ''", "labelAngle": -90, "labelAlign": "right", "labelBaseline": "middle", "labelFontSize": 11, "labelPadding": 6, "labelOffset": {"condition": {"test": "datum.value == 0.7", "value": 5}, "value": -5}, "title": "CH6(V)", "titleAngle": 180, "titleAlign": "center", "titleBaseline": "middle", "titleFontSize": 11, "titleY": 22}},
    "y": {"field": "t", "type": "quantitative", "scale": {"domain": [15, 45], "nice": false, "zero": false},
          "axis": {"orient": "left", "values": [15,17.5,20,22.5,25,27.5,30,32.5,35,37.5,40,42.5,45], "labels": false, "tickSize": {"condition": {"test": "datum.value % 10 == 5", "value": 7}, "value": 3}, "title": "0.04 (V)/div", "titleAnchor": "start", "titleAngle": 270, "titleFontSize": 11, "titleX": -1, "titleBaseline": "bottom"}},
    "order": {"field": "t"}
   }},
  {"mark": {"type": "line", "strokeOpacity": 0},
   "encoding": {
    "x": {"field": "c6", "type": "quantitative", "scale": {"domain": [0.4, 0.7], "reverse": true, "nice": false, "zero": false},
          "axis": {"orient": "top", "values": [0.4, 0.4375, 0.475, 0.5125, 0.55, 0.5875, 0.625, 0.6625, 0.7], "tickSize": -4, "labels": false, "title": null}},
    "y": {"field": "t", "type": "quantitative", "scale": {"domain": [15, 45], "nice": false, "zero": false},
          "axis": {"orient": "right", "values": [15,17.5,20,22.5,25,27.5,30,32.5,35,37.5,40,42.5,45], "labels": false, "tickSize": {"condition": {"test": "datum.value % 10 == 5", "value": 7}, "value": 3}, "title": null}},
    "order": {"field": "t"}
   }}
 ],
 "resolve": {"axis": {"x": "independent", "y": "independent"}}
},
{
 "width": 47, "height": 680,
 "layer": [
  {"mark": {"type": "line", "color": "#ff0000", "strokeWidth": 1, "clip": true},
   "encoding": {
    "x": {"field": "c7", "type": "quantitative", "scale": {"domain": [0.2, 0.4], "reverse": true, "nice": false, "zero": false},
          "axis": {"orient": "bottom", "values": [0.2, 0.225, 0.25, 0.275, 0.3, 0.325, 0.35, 0.375, 0.4], "tickSize": -4, "labelExpr": "datum.value == 0.4 ? '0.4' : datum.value == 0.2 ? '0.2' : ''", "labelAngle": -90, "labelAlign": "right", "labelBaseline": "middle", "labelFontSize": 11, "labelPadding": 6, "labelOffset": {"condition": {"test": "datum.value == 0.4", "value": 5}, "value": -5}, "title": "CH7(V)", "titleAngle": 180, "titleAlign": "center", "titleBaseline": "middle", "titleFontSize": 11, "titleY": 22}},
    "y": {"field": "t", "type": "quantitative", "scale": {"domain": [15, 45], "nice": false, "zero": false},
          "axis": {"orient": "left", "values": [15,17.5,20,22.5,25,27.5,30,32.5,35,37.5,40,42.5,45], "labels": false, "tickSize": {"condition": {"test": "datum.value % 10 == 5", "value": 7}, "value": 3}, "title": "0.02 (V)/div", "titleAnchor": "start", "titleAngle": 270, "titleFontSize": 11, "titleX": -1, "titleBaseline": "bottom"}},
    "order": {"field": "t"}
   }},
  {"mark": {"type": "line", "strokeOpacity": 0},
   "encoding": {
    "x": {"field": "c7", "type": "quantitative", "scale": {"domain": [0.2, 0.4], "reverse": true, "nice": false, "zero": false},
          "axis": {"orient": "top", "values": [0.2, 0.225, 0.25, 0.275, 0.3, 0.325, 0.35, 0.375, 0.4], "tickSize": -4, "labels": false, "title": null}},
    "y": {"field": "t", "type": "quantitative", "scale": {"domain": [15, 45], "nice": false, "zero": false},
          "axis": {"orient": "right", "values": [15,17.5,20,22.5,25,27.5,30,32.5,35,37.5,40,42.5,45], "labels": false, "tickSize": {"condition": {"test": "datum.value % 10 == 5", "value": 7}, "value": 3}, "title": null}},
    "order": {"field": "t"}
   }}
 ],
 "resolve": {"axis": {"x": "independent", "y": "independent"}}
},
{
 "width": 47, "height": 680,
 "layer": [
  {"mark": {"type": "line", "color": "#ff0000", "strokeWidth": 1, "clip": true},
   "encoding": {
    "x": {"field": "c8", "type": "quantitative", "scale": {"domain": [0.2, 0.3], "reverse": true, "nice": false, "zero": false},
          "axis": {"orient": "bottom", "values": [0.2, 0.2125, 0.225, 0.2375, 0.25, 0.2625, 0.275, 0.2875, 0.3], "tickSize": -4, "labelExpr": "datum.value == 0.3 ? '0.3' : datum.value == 0.2 ? '0.2' : ''", "labelAngle": -90, "labelAlign": "right", "labelBaseline": "middle", "labelFontSize": 11, "labelPadding": 6, "labelOffset": {"condition": {"test": "datum.value == 0.3", "value": 5}, "value": -5}, "title": "CH8(V)", "titleAngle": 180, "titleAlign": "center", "titleBaseline": "middle", "titleFontSize": 11, "titleY": 22}},
    "y": {"field": "t", "type": "quantitative", "scale": {"domain": [15, 45], "nice": false, "zero": false},
          "axis": {"orient": "left", "values": [15,17.5,20,22.5,25,27.5,30,32.5,35,37.5,40,42.5,45], "labels": false, "tickSize": {"condition": {"test": "datum.value % 10 == 5", "value": 7}, "value": 3}, "title": "0.02 (V)/div", "titleAnchor": "start", "titleAngle": 270, "titleFontSize": 11, "titleX": -1, "titleBaseline": "bottom"}},
    "order": {"field": "t"}
   }},
  {"mark": {"type": "line", "strokeOpacity": 0},
   "encoding": {
    "x": {"field": "c8", "type": "quantitative", "scale": {"domain": [0.2, 0.3], "reverse": true, "nice": false, "zero": false},
          "axis": {"orient": "top", "values": [0.2, 0.2125, 0.225, 0.2375, 0.25, 0.2625, 0.275, 0.2875, 0.3], "tickSize": -4, "labels": false, "title": null}},
    "y": {"field": "t", "type": "quantitative", "scale": {"domain": [15, 45], "nice": false, "zero": false},
          "axis": {"orient": "right", "values": [15,17.5,20,22.5,25,27.5,30,32.5,35,37.5,40,42.5,45], "tickSize": {"condition": {"test": "datum.value % 10 == 5", "value": 7}, "value": 3}, "labelExpr": "datum.value % 10 == 5 ? '18' + datum.value : ''", "labelAngle": -90, "labelAlign": "center", "labelBaseline": "top", "labelFontSize": 14, "labelPadding": 2, "labelOffset": {"condition": [{"test": "datum.value == 15", "value": 24}, {"test": "datum.value == 45", "value": -9}], "value": -17}, "title": "TIME(UT)", "titleAngle": -90, "titleFontSize": 17, "titlePadding": 3}},
    "order": {"field": "t"}
   }}
 ],
 "resolve": {"axis": {"x": "independent", "y": "independent"}}
}
]
}
